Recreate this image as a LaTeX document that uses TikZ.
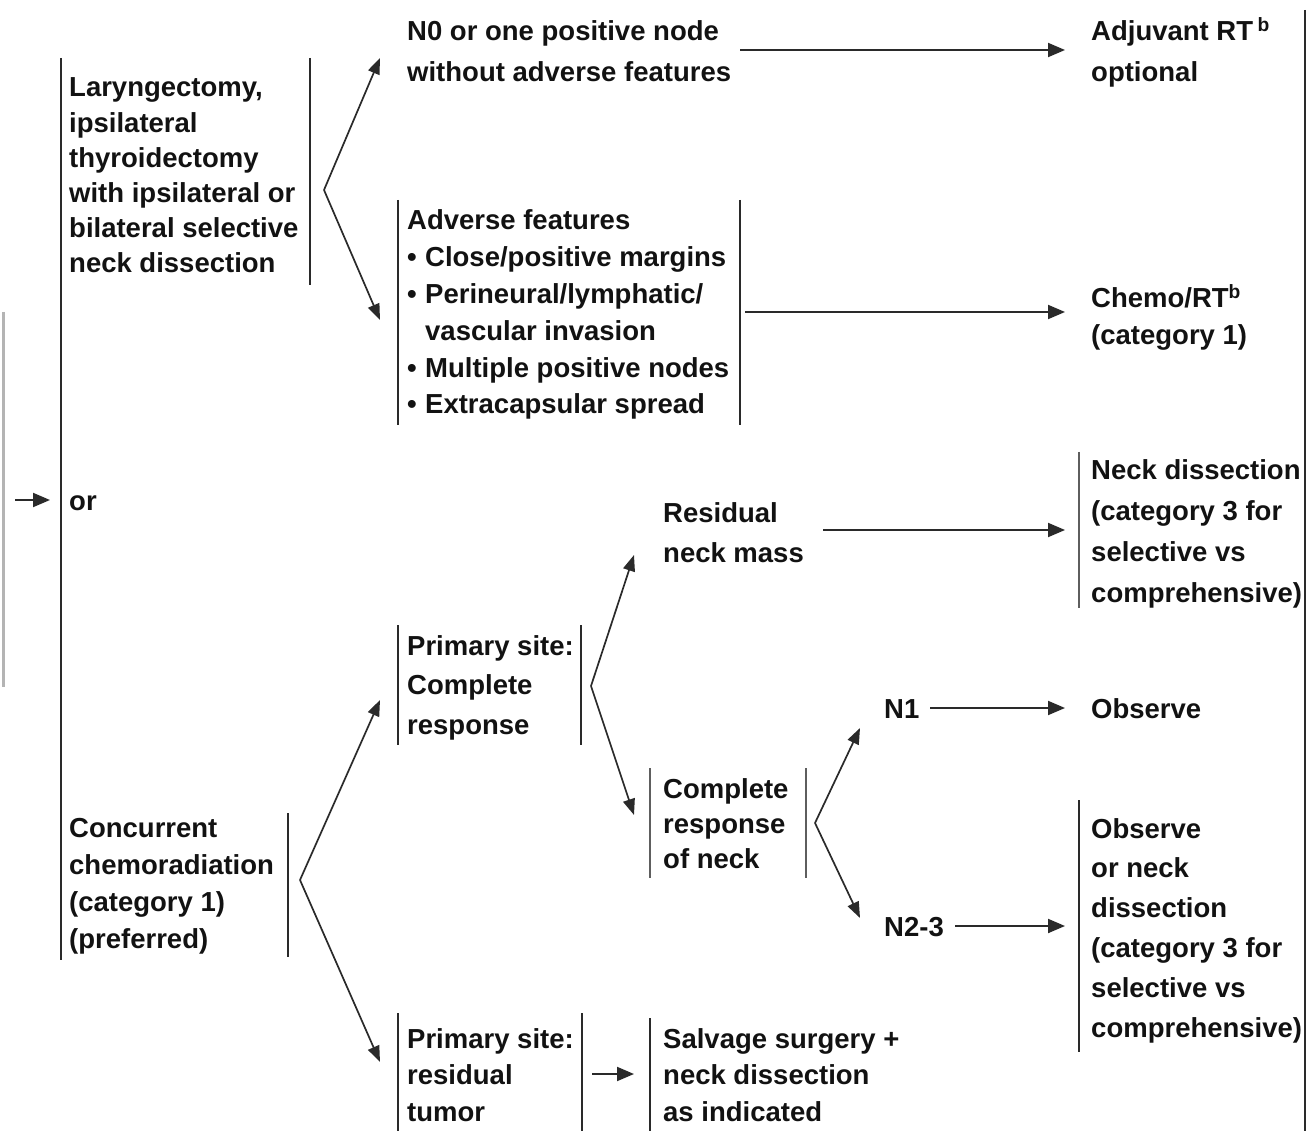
\documentclass[tikz,border=0pt]{standalone}
\usepackage{fontspec}
\setmainfont{Liberation Sans}
\usetikzlibrary{arrows.meta}
\definecolor{ink}{HTML}{121212}
\definecolor{rulec}{HTML}{2A2A2A}
\definecolor{softrule}{HTML}{5E5E5E}
\definecolor{barc}{HTML}{B4B4B4}
\newcommand\fsz[1]{\fontsize{27.5}{#1}\bfseries\selectfont}
\newcommand\bul{\makebox[18pt][l]{\textbullet}}
\begin{document}
% Each text block is placed by the baseline of its last line.
\begin{tikzpicture}[x=1pt,y=-1pt,
  txt/.style={anchor=base west, inner sep=0pt, align=left, text=ink},
  side/.style={draw=rulec, line width=2pt},
  softside/.style={draw=softrule, line width=1.8pt},
  arr/.style={draw=rulec, line width=2pt, -{Triangle[length=17pt,width=14pt]}},
  darr/.style={draw=rulec, line width=1.7pt, -{Triangle[length=16pt,width=12pt]}},
]
\useasboundingbox (0,0) rectangle (1307,1131);

% ---- text blocks ----
\node[txt, font=\fsz{35.2}] (lar) at (69,273) {Laryngectomy,\\ipsilateral\\thyroidectomy\\with ipsilateral or\\bilateral selective\\neck dissection};
\node[txt, font=\fsz{35}] (or) at (69,510) {or};
\node[txt, font=\fsz{36.7}] (conc) at (69,948) {Concurrent\\chemoradiation\\(category 1)\\(preferred)};

\node[txt, font=\fsz{41}] (n0) at (407,82) {N0 or one positive node\\without adverse features};
\node[txt, font=\fsz{36.8}] (adv) at (407,414) {Adverse features\\\bul Close/positive margins\\\bul Perineural/lymphatic/\\\hspace*{18pt}vascular invasion\\\bul Multiple positive nodes\\\bul Extracapsular spread};
\node[txt, font=\fsz{39.5}] (pcr) at (407,734) {Primary site:\\Complete\\response};
\node[txt, font=\fsz{36.5}] (prt) at (407,1121) {Primary site:\\residual\\tumor};

\node[txt, font=\fsz{40}] (resid) at (663,562) {Residual\\neck mass};
\node[txt, font=\fsz{35}] (crn) at (663,868) {Complete\\response\\of neck};
\node[txt, font=\fsz{36.5}] (salv) at (663,1121) {Salvage surgery +\\neck dissection\\as indicated};

\node[txt, font=\fsz{35}] (n1) at (884,718) {N1};
\node[txt, font=\fsz{35}] (n23) at (884,936) {N2-3};

\node[txt, font=\fsz{41}] (adj) at (1091,82) {Adjuvant RT\,\textsuperscript{b}\\optional};
\node[txt, font=\fsz{37}] (chemo) at (1091,345) {Chemo/RT\textsuperscript{b}\\(category 1)};
\node[txt, font=\fsz{40.7}] (neckd) at (1091,602) {Neck dissection\\(category 3 for\\selective vs\\comprehensive)};
\node[txt, font=\fsz{35}] (obs) at (1091,718) {Observe};
\node[txt, font=\fsz{39.8}] (obsnd) at (1091,1037) {Observe\\or neck\\dissection\\(category 3 for\\selective vs\\comprehensive)};

% ---- bracket rules beside the blocks ----
\draw[barc, line width=3pt] (3,312) -- (3,687);
\draw[side] (61,58) -- (61,960);
\draw[side] (310,58) -- (310,285);
\draw[side] (398,200) -- (398,425);
\draw[side] (740,200) -- (740,425);
\draw[side] (398,625) -- (398,745);
\draw[side] (581,625) -- (581,745);
\draw[side] (288,813) -- (288,957);
\draw[side] (398,1013) -- (398,1131);
\draw[side] (582,1013) -- (582,1131);
\draw[softside] (650,768) -- (650,878);
\draw[softside] (806,768) -- (806,878);
\draw[side] (650,1018) -- (650,1131);
\draw[softside] (1079,452) -- (1079,608);
\draw[side] (1079,800) -- (1079,1052);
\draw[side] (1305,10) -- (1305,1131);

% ---- fork points and arrow ends ----
\coordinate (inS) at (15,500);   \coordinate (inE) at (50,500);
\coordinate (larF) at (324,190); \coordinate (larU) at (380,58);  \coordinate (larD) at (380,320);
\coordinate (concF) at (300,880);\coordinate (concU) at (380,700);\coordinate (concD) at (380,1062);
\coordinate (pcrF) at (591,686); \coordinate (pcrU) at (634,555); \coordinate (pcrD) at (634,815);
\coordinate (crnF) at (815,823); \coordinate (crnU) at (860,728); \coordinate (crnD) at (860,918);
\coordinate (n0S) at (740,50);   \coordinate (adjE) at (1065,50);
\coordinate (advS) at (745,312); \coordinate (chemoE) at (1065,312);
\coordinate (resS) at (823,530); \coordinate (neckE) at (1065,530);
\coordinate (n1S) at (930,708);  \coordinate (obsE) at (1065,708);
\coordinate (n23S) at (955,926); \coordinate (obsndE) at (1065,926);
\coordinate (prtS) at (592,1074);\coordinate (salvE) at (634,1074);

% ---- connectors ----
\draw[arr] (inS) -- (inE);
\draw[darr] (larF) -- (larU);
\draw[darr] (larF) -- (larD);
\draw[darr] (concF) -- (concU);
\draw[darr] (concF) -- (concD);
\draw[darr] (pcrF) -- (pcrU);
\draw[darr] (pcrF) -- (pcrD);
\draw[darr] (crnF) -- (crnU);
\draw[darr] (crnF) -- (crnD);
\draw[arr] (n0S) -- (adjE);
\draw[arr] (advS) -- (chemoE);
\draw[arr] (resS) -- (neckE);
\draw[arr] (n1S) -- (obsE);
\draw[arr] (n23S) -- (obsndE);
\draw[arr] (prtS) -- (salvE);
\end{tikzpicture}
\end{document}
